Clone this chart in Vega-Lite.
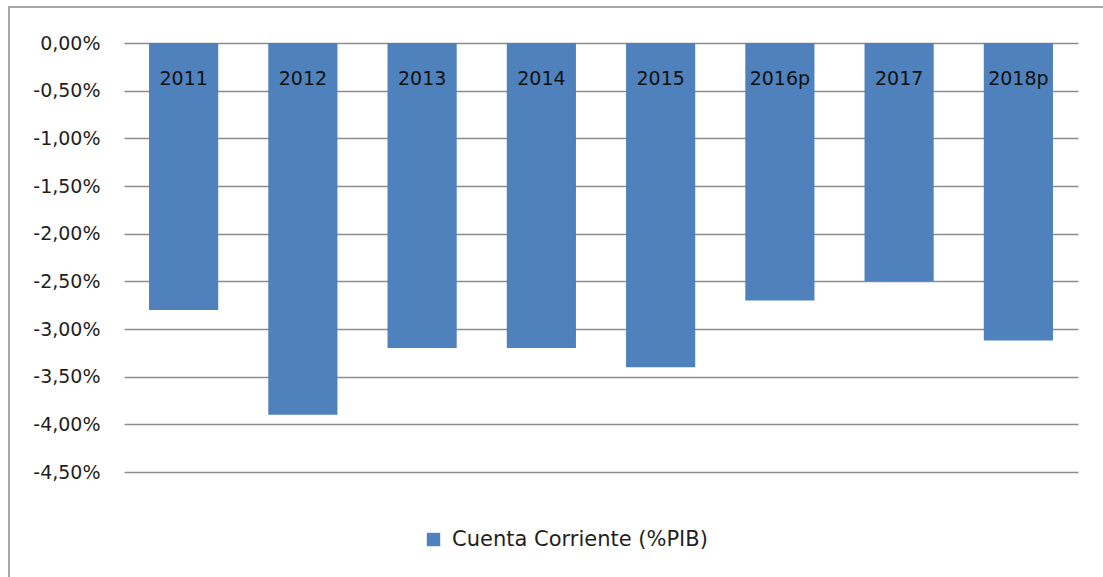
{
  "$schema": "https://vega.github.io/schema/vega-lite/v6.json",
  "autosize": {"type": "none"},
  "padding": {"left": 9, "top": 7, "right": 0, "bottom": 0},
  "width": 1096,
  "height": 575,
  "background": "white",
  "config": {
    "view": {"stroke": "#a6a6a6", "strokeWidth": 2},
    "font": "DejaVu Sans"
  },
  "data": {
    "values": [
      {"year": "2011", "value": -2.8, "series": "Cuenta Corriente (%PIB)"},
      {"year": "2012", "value": -3.9, "series": "Cuenta Corriente (%PIB)"},
      {"year": "2013", "value": -3.2, "series": "Cuenta Corriente (%PIB)"},
      {"year": "2014", "value": -3.2, "series": "Cuenta Corriente (%PIB)"},
      {"year": "2015", "value": -3.4, "series": "Cuenta Corriente (%PIB)"},
      {"year": "2016p", "value": -2.7, "series": "Cuenta Corriente (%PIB)"},
      {"year": "2017", "value": -2.5, "series": "Cuenta Corriente (%PIB)"},
      {"year": "2018p", "value": -3.12, "series": "Cuenta Corriente (%PIB)"}
    ]
  },
  "encoding": {
    "x": {
      "field": "year",
      "type": "nominal",
      "sort": null,
      "scale": {"range": [115, 1069], "paddingInner": 0.42, "paddingOuter": 0.21},
      "axis": null
    }
  },
  "layer": [
    {
      "mark": {"type": "bar"},
      "encoding": {
        "y": {
          "field": "value",
          "type": "quantitative",
          "scale": {"domain": [-4.5, 0], "range": [465, 36], "nice": false, "zero": false},
          "axis": {
            "title": null,
            "values": [0, -0.5, -1, -1.5, -2, -2.5, -3, -3.5, -4, -4.5],
            "labelExpr": "replace(replace(format(datum.value, '.2f'), '.', ','), '\u2212', '-') + '%'",
            "domain": false,
            "grid": false,
            "offset": -115,
            "tickSize": -954,
            "tickColor": "#8c8c8c",
            "tickWidth": 1.6,
            "labelPadding": 978,
            "labelFont": "DejaVu Sans",
            "labelFontSize": 19,
            "labelColor": "#1f1f1f"
          }
        },
        "y2": {"datum": 0},
        "color": {
          "field": "series",
          "type": "nominal",
          "scale": {"range": ["#4f81bd"]},
          "legend": {
            "title": null,
            "orient": "none",
            "legendX": 414,
            "legendY": 522,
            "symbolType": "square",
            "symbolSize": 180,
            "symbolStrokeWidth": 0,
            "labelFont": "DejaVu Sans",
            "labelFontSize": 21,
            "labelColor": "#1f1f1f",
            "labelOffset": 8,
            "labelLimit": 500
          }
        }
      }
    },
    {
      "mark": {"type": "text", "baseline": "middle", "dy": 36, "fontSize": 19, "font": "DejaVu Sans", "color": "#111111"},
      "encoding": {
        "y": {"datum": 0, "type": "quantitative"},
        "text": {"field": "year"}
      }
    }
  ]
}
